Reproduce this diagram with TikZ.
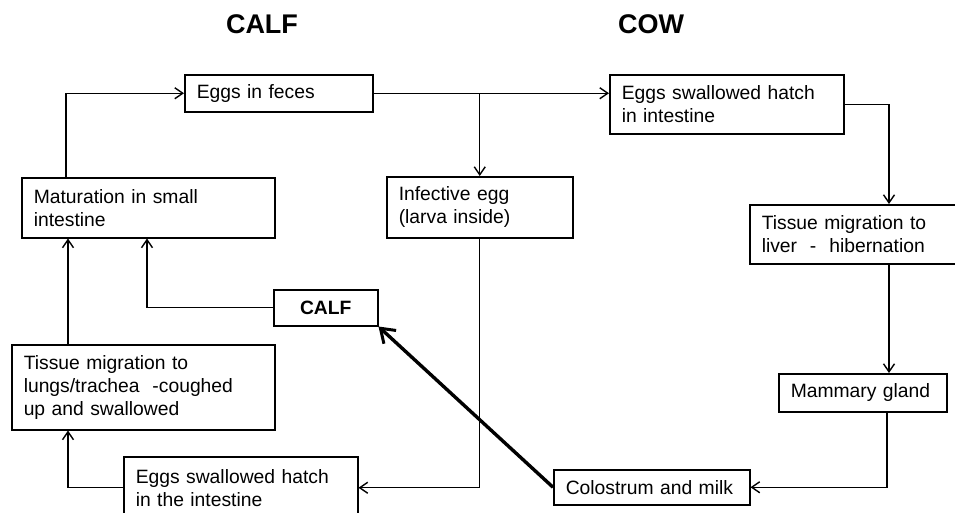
\documentclass[tikz,border=0pt]{standalone}
\usepackage{fontspec}
\setmainfont{Liberation Sans}
\usepackage{tikz}
\usetikzlibrary{arrows.meta}

\tikzset{
  stage/.style={draw, line width=1.5pt, align=left, anchor=north west,
    inner xsep=12pt, inner ysep=0pt, font=\fontsize{19.3}{23}\selectfont},
  flow/.style={line width=1.4pt, -{Straight Barb[length=8pt,width=11pt,line width=1.4pt]}},
  bigflow/.style={line width=3.4pt, -{Straight Barb[length=13pt,width=18pt,line width=3pt]}},
  heading/.style={font=\fontsize{27}{30}\selectfont\bfseries}
}

\begin{document}
\begin{tikzpicture}[x=1pt, y=-1pt]
        \useasboundingbox (0,0) rectangle (955,512);

        % titles
        \node[heading] (calfTitle) at (262,24) {CALF};
        \node[heading] (cowTitle) at (651,24) {COW};

        % boxes
        \node[stage, text width=164pt, minimum height=37pt] (feces) at (184,74) {Eggs in feces};
        \node[stage, text width=210pt, minimum height=59pt] (cowEggs) at (609,74) {Eggs swallowed hatch\\in intestine};
        \node[stage, text width=229pt, minimum height=60pt] (maturation) at (21,177) {Maturation in small\\intestine};
        \node[stage, text width=162pt, minimum height=61pt] (infective) at (386,176) {Infective egg\\(larva inside)};
        \node[stage, text width=184pt, minimum height=59pt] (liver) at (749,204) {Tissue migration to\\liver \ - \ hibernation};
        \node[stage, text width=80pt, minimum height=36pt, align=center] (calfBox) at (273,289) {\bfseries CALF};
        \node[stage, text width=239pt, minimum height=85pt] (lungs) at (11,344) {Tissue migration to\\lungs/trachea \ -coughed\\up and swallowed};
        \node[stage, text width=144pt, minimum height=38pt] (mammary) at (778,373) {Mammary gland};
        \node[stage, text width=210pt, minimum height=62pt] (calfEggs) at (123,456) {Eggs swallowed hatch\\in the intestine};
        \node[stage, text width=172pt, minimum height=35pt] (colostrum) at (553,469) {Colostrum and milk};

        % cow side
        \draw[flow] (feces.east) -- (feces.east -| cowEggs.west);
        \draw[flow] (infective.north |- feces.east) -- (infective.north);
        \draw[flow] (cowEggs.east) -| ([xshift=140pt]liver.north west);
        \draw[flow] ([xshift=140pt]liver.south west) -- ([xshift=140pt]liver.south west |- mammary.north);
        \draw[flow] ([xshift=109pt]mammary.south west) |- (colostrum.east);
        \draw[bigflow] (colostrum.west) -- (calfBox.south east);

        % calf side
        \draw[flow] (infective.south) |- (calfEggs.east);
        \draw[flow] (calfEggs.west) -| ([xshift=57pt]lungs.south west);
        \draw[flow] ([xshift=57pt]lungs.north west) -- ([xshift=57pt]lungs.north west |- maturation.south);
        \draw[flow] (calfBox.west) -| ([xshift=126pt]maturation.south west);
        \draw[flow] ([xshift=45pt]maturation.north west) |- (feces.west);
\end{tikzpicture}
\end{document}
